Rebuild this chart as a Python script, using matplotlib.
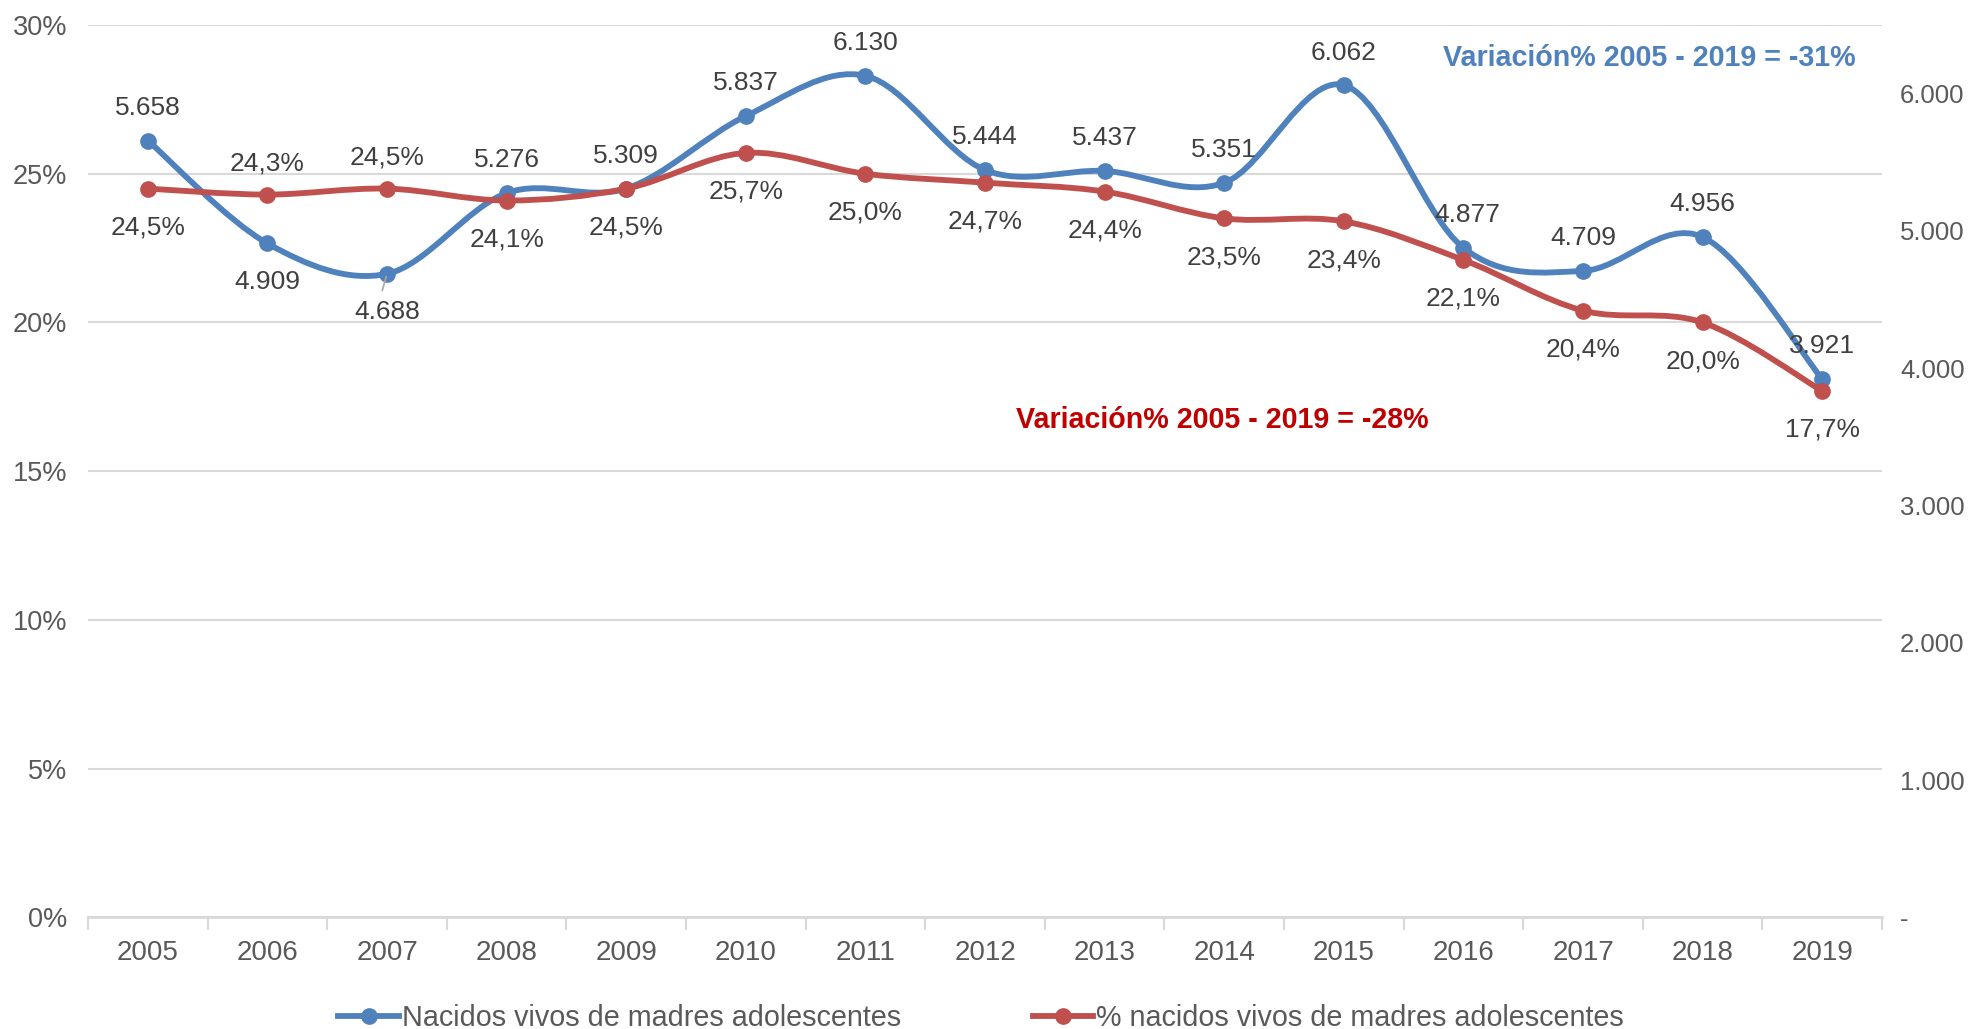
import matplotlib
matplotlib.use("Agg")
import matplotlib.pyplot as plt
from matplotlib.path import Path
from matplotlib.patches import PathPatch
from matplotlib.lines import Line2D
from matplotlib.ticker import FixedLocator, FuncFormatter

plt.rcParams["font.family"] = ["Liberation Sans", "DejaVu Sans"]

years = ["2005", "2006", "2007", "2008", "2009", "2010", "2011", "2012",
         "2013", "2014", "2015", "2016", "2017", "2018", "2019"]
nacidos = [5658, 4909, 4688, 5276, 5309, 5837, 6130, 5444,
           5437, 5351, 6062, 4877, 4709, 4956, 3921]
porcentaje = [24.5, 24.3, 24.5, 24.1, 24.5, 25.7, 25.0, 24.7,
              24.4, 23.5, 23.4, 22.1, 20.4, 20.0, 17.7]
# label above (+1) or below (-1) the point
pos_nacidos = [1, -1, -1, 1, 1, 1, 1, 1, 1, 1, 1, 1, 1, 1, 1]
pos_porcentaje = [-1, 1, 1, -1, -1, -1, -1, -1, -1, -1, -1, -1, -1, -1, -1]
serie_labels = ["Nacidos vivos de madres adolescentes",
                "% nacidos vivos de madres adolescentes"]

BLUE = "#4F81BD"
RED = "#C0504D"
GRID = "#D9D9D9"
TICK = "#595959"
LABEL = "#404040"
LW = 4.2
MS = 11


def smooth_path(xs, ys):
    # Excel-style smoothed line: cubic Bezier through every point
    pts = list(zip(xs, ys))
    n = len(pts)
    verts = [pts[0]]
    codes = [Path.MOVETO]
    for i in range(n - 1):
        p0 = pts[max(i - 1, 0)]
        p1 = pts[i]
        p2 = pts[i + 1]
        p3 = pts[min(i + 2, n - 1)]
        c1 = (p1[0] + (p2[0] - p0[0]) / 6, p1[1] + (p2[1] - p0[1]) / 6)
        c2 = (p2[0] - (p3[0] - p1[0]) / 6, p2[1] - (p3[1] - p1[1]) / 6)
        verts += [c1, c2, p2]
        codes += [Path.CURVE4] * 3
    return Path(verts, codes)


def fmt_miles(v):
    return f"{int(v):,}".replace(",", ".")


fig = plt.figure(figsize=(19.79, 10.29), dpi=100)
ax = fig.add_axes([0.0445, 0.1084, 0.9065, 0.8673])
ax2 = ax.twinx()
ax.set_zorder(ax2.get_zorder() + 1)
ax.patch.set_visible(False)

x = list(range(len(years)))
ax.set_xlim(-0.5, len(years) - 0.5)
ax.set_ylim(0, 30)
ax2.set_ylim(0, 6500)

# grid
ax.yaxis.set_major_locator(FixedLocator([0, 5, 10, 15, 20, 25, 30]))
ax.grid(axis="y", color=GRID, linewidth=1.5, zorder=0)
ax.set_axisbelow(True)
for s in ["top", "right", "left"]:
    ax.spines[s].set_visible(False)
for s in ax2.spines.values():
    s.set_visible(False)
ax.spines["bottom"].set_color(GRID)
ax.spines["bottom"].set_linewidth(2)

ax.yaxis.set_major_formatter(FuncFormatter(lambda v, p: f"{int(v)}%"))
ax.tick_params(axis="y", length=0, pad=15, labelsize=19.5, labelcolor=TICK)
ax.set_xticks(x)
ax.set_xticklabels(years)
ax.set_xticks([i - 0.5 for i in range(len(years) + 1)], minor=True)
ax.tick_params(axis="x", which="major", length=0, pad=16, labelsize=20, labelcolor=TICK)
ax.tick_params(axis="x", which="minor", length=9, width=1.5, color=GRID)

ax2.yaxis.set_major_locator(FixedLocator([0, 1000, 2000, 3000, 4000, 5000, 6000]))
ax2.yaxis.set_major_formatter(FuncFormatter(lambda v, p: "-" if v == 0 else fmt_miles(v)))
ax2.tick_params(axis="y", length=0, pad=13, labelsize=18.5, labelcolor=TICK)

# blue series drawn in ax but scaled on the right axis
ax.add_patch(PathPatch(smooth_path(x, nacidos), fill=False, edgecolor=BLUE,
                       linewidth=LW, transform=ax2.transData, zorder=3,
                       capstyle="round", joinstyle="round"))
ax.plot(x, nacidos, "o", color=BLUE, markersize=MS, transform=ax2.transData, zorder=3)

ax.add_patch(PathPatch(smooth_path(x, porcentaje), fill=False, edgecolor=RED,
                       linewidth=LW, zorder=4, capstyle="round", joinstyle="round"))
ax.plot(x, porcentaje, "o", color=RED, markersize=MS, zorder=4)

for xi, v, p in zip(x, nacidos, pos_nacidos):
    dx = 3 if xi == 11 else 0
    dy = 23.5 if p > 0 else -27.5
    ax.annotate(fmt_miles(v), (xi, v), xycoords=ax2.transData,
                xytext=(dx, dy), textcoords="offset points",
                ha="center", va="center", fontsize=19, color=LABEL, zorder=6)
# leader line for 2007
ax.annotate("", (2, nacidos[2]), xycoords=ax2.transData,
            xytext=(-4, -14), textcoords="offset points",
            arrowprops=dict(arrowstyle="-", color="#A6A6A6", lw=1.2))

for xi, v, p in zip(x, porcentaje, pos_porcentaje):
    dy = 22.5 if p > 0 else -28
    ax.annotate(f"{v:.1f}%".replace(".", ","), (xi, v),
                xytext=(0, dy), textcoords="offset points",
                ha="center", va="center", fontsize=19, color=LABEL, zorder=6)

fig.text(0.7292, 0.944, "Variación% 2005 - 2019 = -31%", color=BLUE,
         fontsize=20.6, fontweight="bold", ha="left", va="center")
fig.text(0.5134, 0.5918, "Variación% 2005 - 2019 = -28%", color="#C00000",
         fontsize=20.6, fontweight="bold", ha="left", va="center")

handles = [Line2D([], [], color=BLUE, lw=LW, marker="o", markersize=MS),
           Line2D([], [], color=RED, lw=LW, marker="o", markersize=MS)]
fig.legend(handles, serie_labels, loc="center", bbox_to_anchor=(0.4958, 0.011),
           ncol=2, frameon=False, fontsize=20.7, handlelength=2.1,
           handletextpad=0.1, columnspacing=4.6, labelcolor=TICK)

fig.savefig("out.png", dpi=100)
